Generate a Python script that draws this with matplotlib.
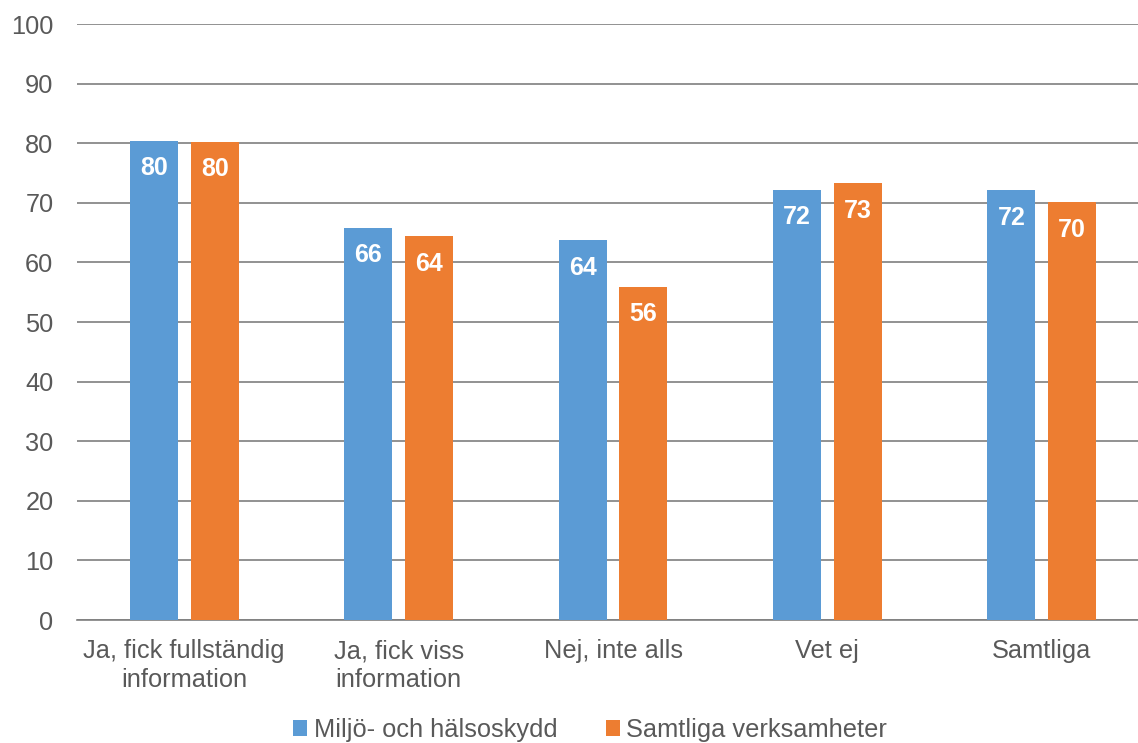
import matplotlib.pyplot as plt
import numpy as np

plt.rcParams['font.family'] = ['Liberation Sans', 'DejaVu Sans']

categories = ["Ja, fick fullständig\ninformation", "Ja, fick viss\ninformation",
              "Nej, inte alls", "Vet ej", "Samtliga"]
miljo = [80.4, 65.8, 63.7, 72.2, 72.1]
samtliga = [80.2, 64.4, 55.9, 73.3, 70.1]
miljo_labels = ["80", "66", "64", "72", "72"]
samtliga_labels = ["80", "64", "56", "73", "70"]

blue = "#5b9bd5"
orange = "#ed7d31"
grey = "#595959"
fs = 18.3

fig = plt.figure(figsize=(11.38, 7.43), dpi=100)
ax = fig.add_axes([77/1138, 123/743, 1072/1138, 596/743])

x = np.arange(len(categories))
w = 0.224
off = 0.142
b1 = ax.bar(x - off, miljo, w, color=blue, label="Miljö- och hälsoskydd", zorder=3)
b2 = ax.bar(x + off, samtliga, w, color=orange, label="Samtliga verksamheter", zorder=3)

for bars, labs in ((b1, miljo_labels), (b2, samtliga_labels)):
    for b, t in zip(bars, labs):
        ax.text(b.get_x() + b.get_width()/2, b.get_height() - 4.6, t,
                ha="center", va="center", color="white", fontsize=18,
                fontweight="bold", zorder=4)

ax.set_xlim(-0.5, len(categories) - 0.5)
ax.set_ylim(0, 100)
ax.set_yticks(range(0, 101, 10))
ax.yaxis.grid(True, color="#7f7f7f", linewidth=1.2, zorder=0)
ax.set_axisbelow(True)
for s in ["top", "right", "left"]:
    ax.spines[s].set_visible(False)
ax.spines["bottom"].set_color("#7f7f7f")
ax.spines["bottom"].set_linewidth(1.2)
ax.tick_params(axis="both", length=0, labelsize=fs, colors=grey)
ax.tick_params(axis="x", pad=14)
ax.tick_params(axis="y", pad=17)
ax.set_xticks(x)
ax.set_xticklabels(categories, linespacing=1.25)

leg = fig.legend(loc="center", bbox_to_anchor=(590/1138, 1 - 730/743), ncol=2,
                 frameon=False, fontsize=fs, handlelength=0.55, handleheight=0.55,
                 handletextpad=0.25, columnspacing=1.9, labelcolor=grey)

fig.savefig("out.png", dpi=100)
